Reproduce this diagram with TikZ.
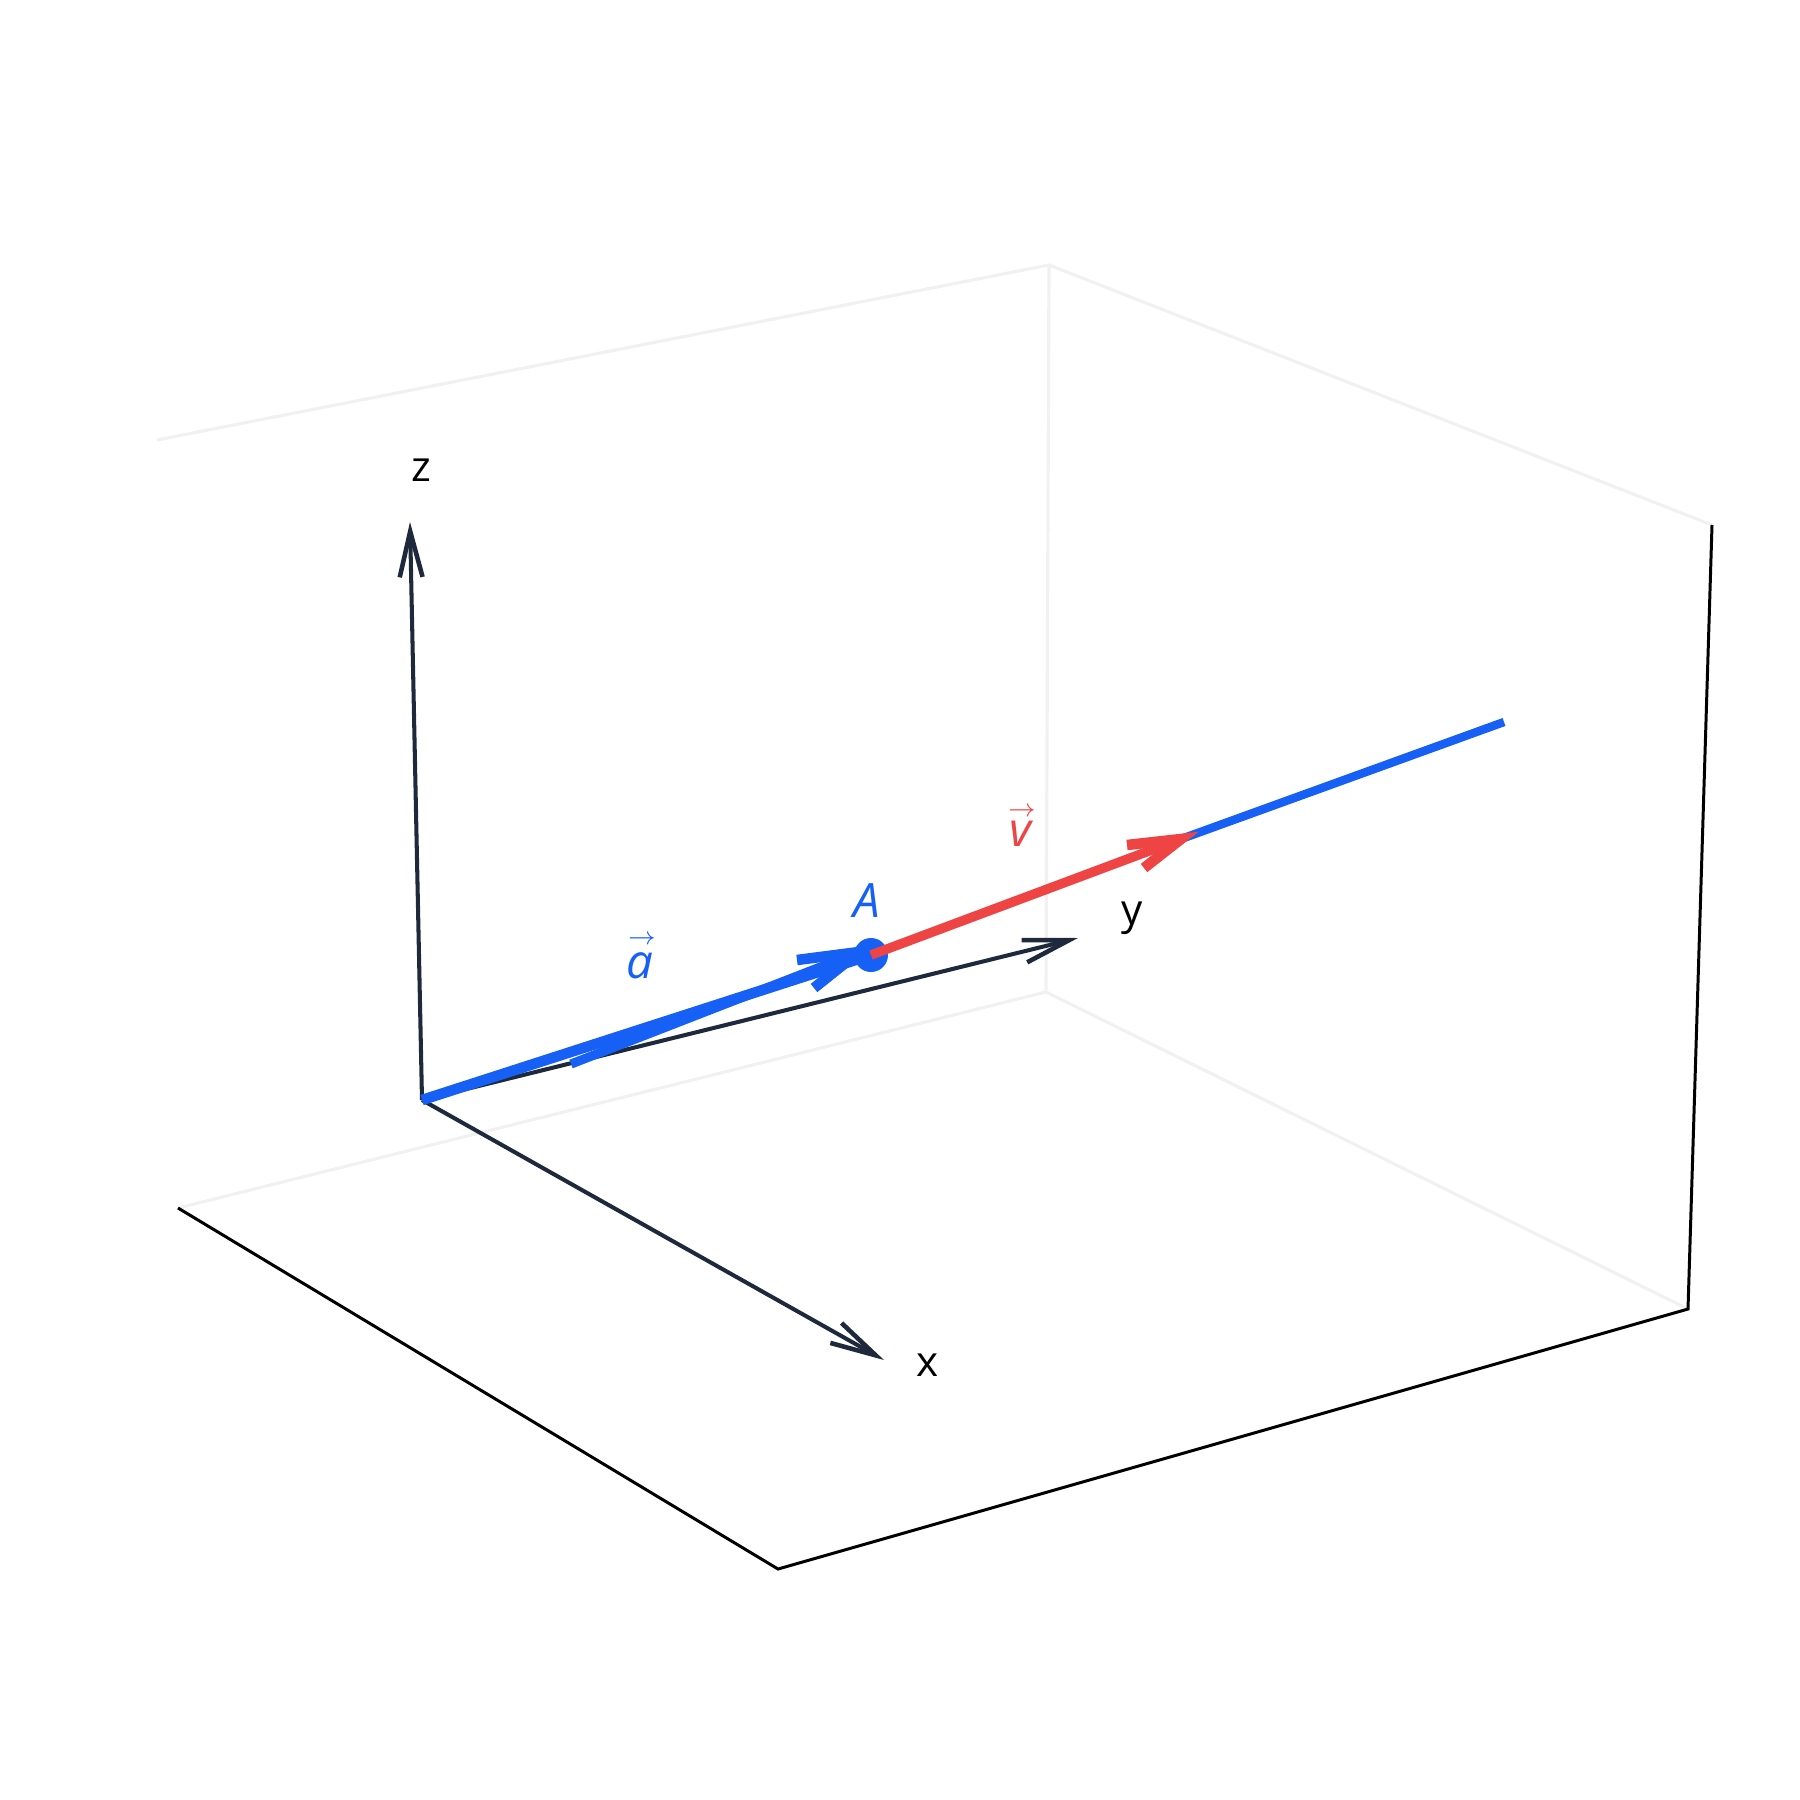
\documentclass[tikz,border=0pt]{standalone}
\usepackage{fontspec}
\setmainfont{Open Sans}
\usetikzlibrary{arrows.meta}
\definecolor{vblue}{RGB}{22,96,246}
\definecolor{vred}{RGB}{239,68,68}
\definecolor{axcol}{RGB}{30,41,59}
\definecolor{faint}{RGB}{241,241,241}
\newcommand{\vecarrow}{{\fontsize{7}{7}\selectfont$\rightarrow$}}
\tikzset{
  faintline/.style={draw=faint,line width=0.9pt},
  boxline/.style={draw=black,line width=0.85pt},
  axisline/.style={draw=axcol,line width=1.15pt,-{Straight Barb[length=13pt,width=6.5pt,line width=1.3pt]}},
  axlabel/.style={font=\fontsize{12}{14}\selectfont,text=black,inner sep=0pt},
  bluevec/.style={draw=vblue,line width=3pt},
  redvec/.style={draw=vred,line width=2.7pt},
  veclabel/.style={font=\fontsize{13.5}{15}\selectfont\itshape,inner sep=0pt},
  arrlabel/.style={inner sep=0pt}
}
\begin{document}
\begin{tikzpicture}[x=0.01cm,y=-0.01cm]
\useasboundingbox (0,0) rectangle (1800,1800);
% box corners
\coordinate (F1) at (157,440);
\coordinate (F2) at (1049,265);
\coordinate (F3) at (1046,992);
\coordinate (P1) at (178,1208);
\coordinate (P2) at (778,1569);
\coordinate (P3) at (1688,1309);
\coordinate (P4) at (1712,525);
% faint back edges
\draw[faintline] (F1) -- (F2) -- (P4);
\draw[faintline] (F2) -- (F3);
\draw[faintline] (P1) -- (F3) -- (P3);
% front edges
\draw[boxline] (P1) -- (P2) -- (P3) -- (P4);
% axes
\coordinate (O) at (422,1100);
\coordinate (Zt) at (410,522);
\coordinate (Yt) at (1078,938);
\coordinate (Xt) at (884,1360);
\draw[axisline] (O) -- (Zt);
\draw[axisline] (O) -- (Yt);
\draw[axisline] (O) -- (Xt);
\node[axlabel] (zl) at (421,470) {z};
\node[axlabel] (yl) at (1132,918) {y};
\node[axlabel] (xl) at (928,1365) {x};
% vector a
\coordinate (A) at (871,955);
\coordinate (L) at (571,1064);
\coordinate (At) at (859,952);
\coordinate (B1) at (797,960);
\coordinate (B2) at (814,988);
\draw[bluevec] (O) -- (A);
\draw[draw=vblue,line width=2.6pt] (L) -- (At);
\draw[bluevec] (B1) -- (At) -- (B2);
\fill[vblue] (A) circle[radius=17];
% vector v
\coordinate (Vt) at (1181,839);
\coordinate (R1) at (1127,845);
\coordinate (R2) at (1144,868);
\coordinate (E) at (1504,722);
\draw[draw=vblue,line width=2.4pt] (Vt) -- (E);
\draw[redvec] (A) -- (Vt);
\draw[redvec,line width=3pt] (R1) -- (Vt) -- (R2);
% labels
\node[veclabel,text=vblue] (Al) at (867,901) {A};
\node[veclabel,text=vblue] (al) at (640,966) {a};
\node[arrlabel,text=vblue] (ala) at (642,940) {\vecarrow};
\node[veclabel,text=vred] (vl) at (1020,834) {v};
\node[arrlabel,text=vred] (vla) at (1022,812) {\vecarrow};
\end{tikzpicture}
\end{document}
